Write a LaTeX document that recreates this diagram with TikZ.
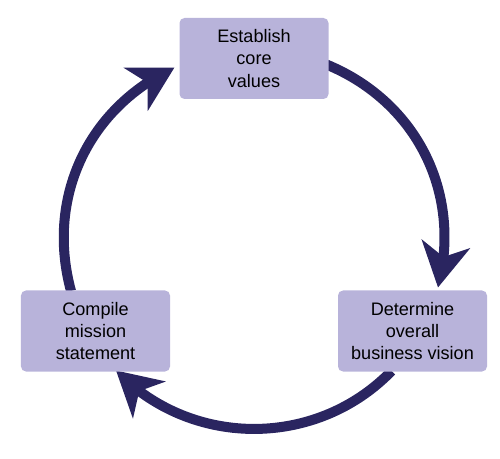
\documentclass[tikz,border=0pt]{standalone}
\usepackage{fontspec}
\setmainfont{Liberation Sans}
\usepackage{tikz}
\usetikzlibrary{arrows.meta}
\usetikzlibrary{bending}
\definecolor{ringblue}{RGB}{42,37,96}
\definecolor{boxlilac}{RGB}{184,179,218}
\pgfdeclarelayer{nodelayer}
\pgfdeclarelayer{edgelayer}
\pgfsetlayers{edgelayer,nodelayer,main}
\tikzstyle{none}=[inner sep=-1pt]
\tikzstyle{phase}=[shape=rectangle, rounded corners=0.1cm, fill=boxlilac, draw=none,
  minimum width=2.98cm, minimum height=1.62cm, align=center, inner sep=2pt,
  font=\fontsize{10.3}{12.6}\selectfont]
\tikzset{ringarrow/.style={draw=ringblue, line width=0.2cm,
  -{Stealth[length=0.88cm, width=0.97cm, inset=0.26cm]}}}

\begin{document}
\begin{tikzpicture}
	\useasboundingbox (-5.08, -4.36) rectangle (4.92, 4.8);
	\begin{pgfonlayer}{nodelayer}
		\node [style=phase] (0) at (0, 3.63) {Establish\\core\\values};
		\node [style=phase] (1) at (3.17, -1.82) {Determine\\overall\\business vision};
		\node [style=phase] (2) at (-3.17, -1.82) {Compile\\mission\\statement};
		\node [style=none] (3) at (-3.66, -1.02) {};
		\node [style=none] (4) at (-1.59, 3.45) {};
		\node [style=none] (5) at (1.45, 3.51) {};
		\node [style=none] (6) at (3.68, -0.95) {};
		\node [style=none] (7) at (2.75, -2.62) {};
		\node [style=none] (8) at (-2.76, -2.61) {};
	\end{pgfonlayer}
	\begin{pgfonlayer}{edgelayer}
		\draw [style=ringarrow, bend left=40] (3.center) to (4.center);
		\draw [style=ringarrow, bend left=41] (5.center) to (6.center);
		\draw [style=ringarrow, bend left=46] (7.center) to (8.center);
	\end{pgfonlayer}
\end{tikzpicture}
\end{document}
